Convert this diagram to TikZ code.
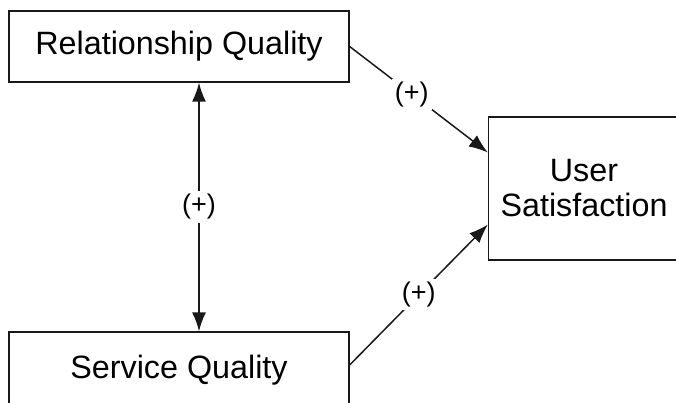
\documentclass[tikz,border=0pt]{standalone}
\usepackage{fontspec}
\setmainfont{Liberation Sans}
\usetikzlibrary{arrows.meta,calc}
\begin{document}
\begin{tikzpicture}[x=1pt,y=-1pt,
  box/.style={draw=black!90, line width=1.3pt, rectangle, inner sep=0pt, align=center,
    font=\fontsize{32.3}{35}\selectfont},
  conn/.style={draw=black!90, line width=1.5pt, -{Latex[length=19pt,width=14pt]}},
  both/.style={draw=black!90, line width=1.5pt, {Latex[length=19pt,width=14pt]}-{Latex[length=19pt,width=14pt]}},
  lbl/.style={fill=white, inner sep=3pt, font=\fontsize{27}{30}\selectfont}]
\useasboundingbox (0,0) rectangle (676,402);
\clip (0,0) rectangle (676,402);
\node[box, minimum width=340pt, minimum height=71pt] (rq) at (179,46.5) {Relationship Quality};
\node[box, minimum width=340pt, minimum height=76pt] (sq) at (179,370) {Service Quality};
\node[box, minimum width=191pt, minimum height=143pt] (us) at (584,188.5) {User\\Satisfaction};
\coordinate (rqb) at ($(rq.south)+(20,0)$);
\coordinate (sqt) at ($(sq.north)+(20,0)$);
\draw[both] (rqb) -- node[lbl] (l1) {(+)} (sqt);
\draw[conn] (rq.east) -- node[lbl, pos=0.45] (l2) {(+)} ($(us.west)+(0,-36)$);
\draw[conn] ($(sq.east)+(0,-5)$) -- node[lbl, pos=0.5] (l3) {(+)} ($(us.west)+(0,36)$);
\end{tikzpicture}
\end{document}
